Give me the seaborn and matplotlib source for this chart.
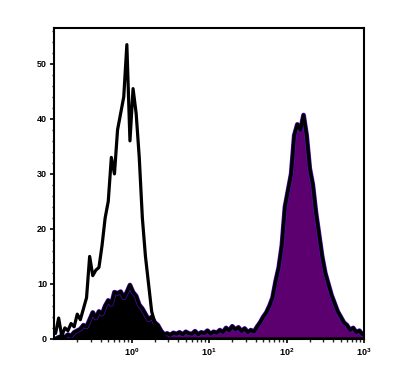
import numpy as np
import pandas as pd
import matplotlib
matplotlib.use("Agg")
import matplotlib.pyplot as plt
import matplotlib.ticker as mticker
import seaborn as sns

# bin centers in log10 units (0.04 decade bins from -1 to 3)
log_centers = [round(-0.98 + 0.04 * i, 2) for i in range(100)]

control_counts = [
    1.0, 3.8, 0.5, 2.0, 1.5, 2.8, 2.2, 4.5, 3.5, 5.5,
    7.5, 15.0, 11.5, 12.5, 13.0, 17.0, 22.0, 25.0, 33.0, 30.0,
    38.0, 41.0, 44.0, 53.5, 36.0, 45.5, 41.0, 33.0, 22.0, 15.0,
    10.0, 5.0, 3.0, 1.5, 0.8, 0.3, 0.0, 0.0, 0.0, 0.0,
    0.0, 0.0, 0.0, 0.0, 0.0, 0.0, 0.0, 0.0, 0.0, 0.0,
    0.0, 0.0, 0.0, 0.0, 0.0, 0.0, 0.0, 0.0, 0.0, 0.0,
    0.0, 0.0, 0.0, 0.0, 0.0, 0.0, 0.0, 0.0, 0.0, 0.0,
    0.0, 0.0, 0.0, 0.0, 0.0, 0.0, 0.0, 0.0, 0.0, 0.0,
    0.0, 0.0, 0.0, 0.0, 0.0, 0.0, 0.0, 0.0, 0.0, 0.0,
    0.0, 0.0, 0.0, 0.0, 0.0, 0.0, 0.0, 0.0, 0.0, 0.0,
]

sample_counts = [
    0.0, 0.3, 0.5, 0.3, 0.8, 0.5, 1.2, 1.5, 1.8, 2.5,
    2.2, 3.5, 4.8, 3.8, 5.0, 4.5, 6.0, 7.0, 6.3, 8.5,
    8.3, 8.6, 7.5, 8.5, 9.8, 8.5, 7.8, 6.2, 5.5, 4.5,
    3.5, 4.0, 3.0, 2.5, 1.5, 0.8, 1.0, 0.7, 1.1, 0.9,
    1.2, 0.8, 1.3, 1.0, 0.9, 1.4, 0.8, 1.2, 1.0, 1.5,
    0.9, 1.3, 1.1, 1.6, 1.2, 2.0, 1.5, 2.3, 1.7, 2.1,
    1.4, 1.9, 1.2, 1.6, 1.3, 2.2, 3.0, 4.0, 4.8, 6.0,
    7.5, 10.5, 13.0, 17.0, 24.0, 27.0, 30.0, 37.0, 39.0, 38.0,
    40.7, 37.0, 31.0, 28.0, 23.0, 19.0, 15.0, 12.0, 10.0, 8.0,
    6.5, 5.0, 4.0, 3.0, 2.5, 1.6, 2.0, 1.2, 1.5, 0.8,
]

x_tick_values = [1, 10, 100, 1000]
x_tick_labels = ["$10^{0}$", "$10^{1}$", "$10^{2}$", "$10^{3}$"]
y_tick_values = [0, 10, 20, 30, 40, 50]

df = pd.DataFrame({
    "x": [10 ** c for c in log_centers],
    "control": control_counts,
    "sample": sample_counts,
})

sns.set_style("ticks")
plt.rcParams["font.family"] = ["Liberation Sans", "DejaVu Sans"]
plt.rcParams["mathtext.fontset"] = "custom"
plt.rcParams["mathtext.rm"] = "Liberation Sans:bold"
plt.rcParams["mathtext.it"] = "Liberation Sans:bold"
plt.rcParams["mathtext.bf"] = "Liberation Sans:bold"

fig = plt.figure(figsize=(4.0, 3.7), dpi=100)
ax = fig.add_axes([0.135, 0.084, 0.775, 0.84])
ax.set_xscale("log")

purple = "#5c0070"
x = df["x"].to_numpy()
s = df["sample"].to_numpy()
ax.fill_between(x, 0, s, color=purple, linewidth=0, zorder=1)
ax.fill_between(x, 0, s, where=x <= 10 ** 0.46, color="black", linewidth=0, zorder=1.5)
ax.plot(x, s, color="#5010c0", lw=3.4, zorder=2)
sns.lineplot(data=df, x="x", y="sample", color="black", lw=2.5, ax=ax, zorder=3)
sns.lineplot(data=df, x="x", y="control", color="black", lw=2.3, ax=ax, zorder=4)

ax.set_xlim(0.1, 1000)
ax.set_ylim(0, 56.5)
ax.set_xlabel("")
ax.set_ylabel("")

ax.xaxis.set_major_locator(mticker.FixedLocator(x_tick_values))
ax.xaxis.set_major_formatter(mticker.FixedFormatter(x_tick_labels))
ax.xaxis.set_minor_locator(mticker.LogLocator(base=10, subs=np.arange(2, 10), numticks=20))
ax.xaxis.set_minor_formatter(mticker.NullFormatter())
ax.yaxis.set_major_locator(mticker.FixedLocator(y_tick_values))
ax.yaxis.set_minor_locator(mticker.MultipleLocator(2))

for sp in ax.spines.values():
    sp.set_visible(True)
    sp.set_linewidth(1.5)
    sp.set_color("black")

ax.tick_params(axis="both", which="major", length=3, width=1.2, direction="out",
               labelsize=6.5, pad=2, colors="black")
ax.tick_params(axis="both", which="minor", length=1.8, width=1.0, direction="out")
for lab in ax.get_xticklabels() + ax.get_yticklabels():
    lab.set_fontweight("bold")

fig.savefig("out.png", dpi=100)
